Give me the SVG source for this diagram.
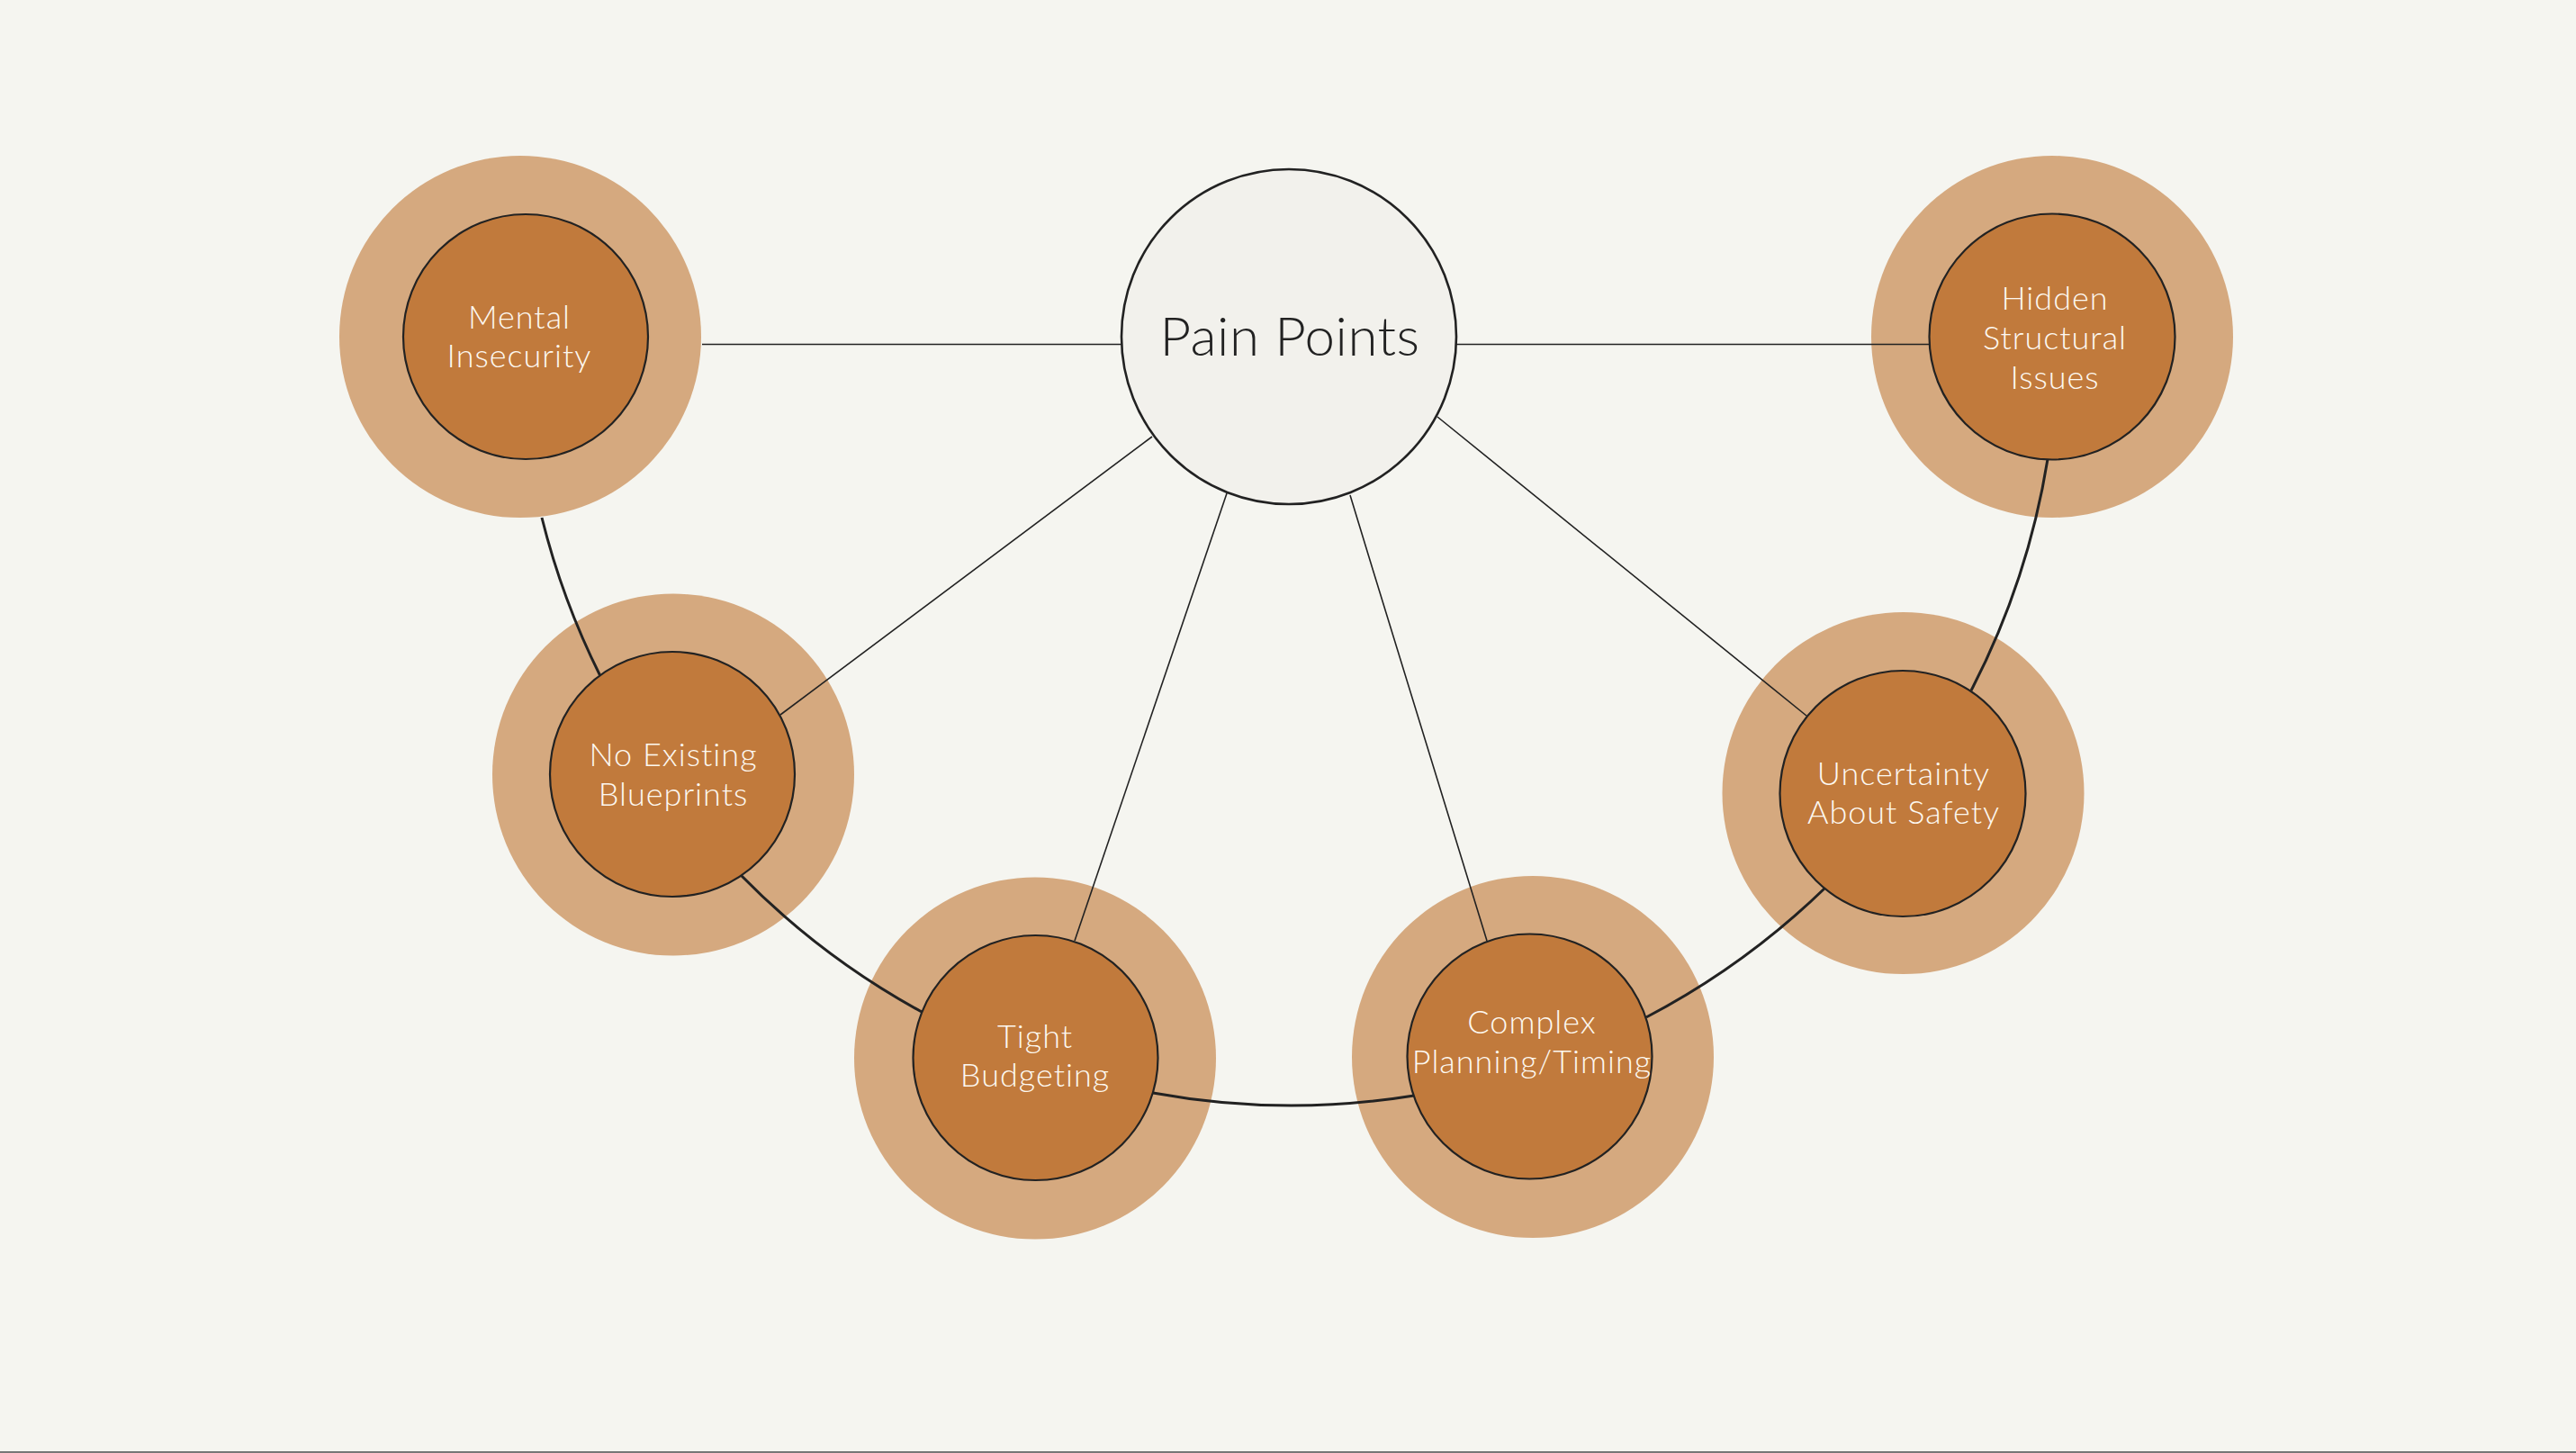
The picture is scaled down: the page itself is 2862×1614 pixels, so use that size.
<svg xmlns="http://www.w3.org/2000/svg" width="2862" height="1614" viewBox="0 0 2862 1614">
<style>
.halo{fill:#d5a97f;}
.core{fill:#c17a3c;stroke:#222;stroke-width:2.2;}
.hub{fill:#f2f1ec;stroke:#222;stroke-width:2.6;}
.lbl{font-family:"Lato","Liberation Sans",sans-serif;font-weight:300;font-size:36px;letter-spacing:1px;fill:#fdf8f0;text-anchor:middle;}
.hubt{font-family:"Lato","Liberation Sans",sans-serif;font-weight:300;font-size:60px;letter-spacing:0.5px;fill:#222;text-anchor:middle;}
.arc{fill:none;stroke:#222;stroke-width:3;}
.spoke{fill:none;stroke:#222;stroke-width:1.6;}
</style>
<rect x="0" y="0" width="2862" height="1614" fill="#f5f5f0"/>
<rect x="0" y="1612" width="2862" height="2" fill="#777"/>
<g id="halos">
<circle class="halo" cx="578" cy="374" r="201"/>
<circle class="halo" cx="2280" cy="374" r="201"/>
<circle class="halo" cx="748" cy="860.5" r="201"/>
<circle class="halo" cx="1150" cy="1175.5" r="201"/>
<circle class="halo" cx="1703" cy="1174" r="201"/>
<circle class="halo" cx="2114.5" cy="881" r="201"/>
</g>
<g id="connectors">
<line class="spoke" x1="780" y1="382.5" x2="1246" y2="382.5"/>
<line class="spoke" x1="1618" y1="382.5" x2="2143" y2="382.5"/>
<line class="spoke" x1="1280" y1="485" x2="867" y2="794"/>
<line class="spoke" x1="1363" y1="548" x2="1194" y2="1045"/>
<polyline class="spoke" points="1500,550 1525,632 1652,1045"/>
<line class="spoke" x1="1597" y1="463" x2="2007" y2="795"/>
<path class="arc" d="M 602 575 A 853.5 853.5 0 0 0 667 751"/>
<path class="arc" d="M 823 972 A 853.5 853.5 0 0 0 1024 1124"/>
<path class="arc" d="M 1281 1214 A 853.5 853.5 0 0 0 1571 1217"/>
<path class="arc" d="M 1829 1130 A 853.5 853.5 0 0 0 2027 987"/>
<path class="arc" d="M 2190 767 A 853.5 853.5 0 0 0 2275 510"/>
</g>
<g id="pain-points">
<circle class="hub" cx="1432" cy="374" r="186"/>
<text class="hubt" x="1433" y="395">Pain Points</text>
</g>
<g id="mental-insecurity">
<circle class="core" cx="584" cy="374" r="136"/>
<text class="lbl" x="577" y="365">Mental</text>
<text class="lbl" x="577" y="408">Insecurity</text>
</g>
<g id="hidden-structural-issues">
<circle class="core" cx="2280" cy="374" r="136.5"/>
<text class="lbl" x="2283" y="344">Hidden</text>
<text class="lbl" x="2283" y="388">Structural</text>
<text class="lbl" x="2283" y="432">Issues</text>
</g>
<g id="no-existing-blueprints">
<circle class="core" cx="747" cy="860" r="136"/>
<text class="lbl" x="748" y="851">No Existing</text>
<text class="lbl" x="748" y="895">Blueprints</text>
</g>
<g id="tight-budgeting">
<circle class="core" cx="1150.5" cy="1175" r="136"/>
<text class="lbl" x="1150" y="1164">Tight</text>
<text class="lbl" x="1150" y="1207">Budgeting</text>
</g>
<g id="complex-planning-timing">
<circle class="core" cx="1699.5" cy="1173.5" r="136"/>
<text class="lbl" x="1702" y="1148">Complex</text>
<text class="lbl" x="1702" y="1192">Planning/Timing</text>
</g>
<g id="uncertainty-about-safety">
<circle class="core" cx="2114" cy="881.5" r="136.5"/>
<text class="lbl" x="2115" y="872">Uncertainty</text>
<text class="lbl" x="2115" y="915">About Safety</text>
</g>
</svg>
